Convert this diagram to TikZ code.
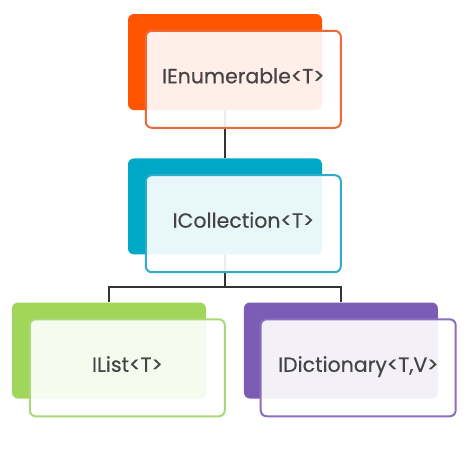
\documentclass[tikz,border=0pt]{standalone}
\usepackage{fontspec}
\setmainfont{Poppins}[FakeBold=0.5]
\usepackage{tikz}
\usetikzlibrary{
        positioning,
        shapes
    }
\definecolor{enumback}{HTML}{FF5500}
\definecolor{enumline}{HTML}{F0693A}
\definecolor{collback}{HTML}{00A8C8}
\definecolor{collline}{HTML}{2EADC9}
\definecolor{listback}{HTML}{A0D65A}
\definecolor{listline}{HTML}{AAD876}
\definecolor{dictback}{HTML}{7B5DB5}
\definecolor{dictline}{HTML}{8A6EBF}
\definecolor{textgray}{HTML}{444444}
\tikzset{
    back/.style={rectangle,rounded corners=6pt,fill=#1,minimum width=194pt,minimum height=96pt,inner sep=0pt},
    front/.style={rectangle,rounded corners=6pt,draw=#1,line width=2pt,fill=white,fill opacity=0.91,text opacity=1,
        minimum width=195pt,minimum height=97pt,inner sep=0pt,anchor=north west,
        text height=14pt,text depth=6pt,
        font=\fontsize{20.5}{24}\selectfont,text=textgray},
    link/.style={draw=black!80,line width=2pt}
}

\begin{document}
\begin{tikzpicture}
    \useasboundingbox (0pt,0pt) rectangle (471pt,-453pt);
    \node[back=enumback] (enumB) at (225pt,-62pt) {};
    \node[back=collback] (collB) [below=48pt of enumB] {};
    \node[back=listback] (listB) at (109pt,-350.5pt) {};
    \node[back=dictback] (dictB) [right=37.5pt of listB] {};
    \path (collB.south) ++(0pt,-32pt) coordinate (fork);
    \path[link]
        (enumB) -- (collB)
        (collB.south) -- (fork)
        (fork) -| (listB.north)
        (fork) -| (dictB.north)
    ;
    \node[front=enumline] (enum) at ([shift={(17pt,-16pt)}]enumB.north west) {IEnumerable<T>};
    \node[front=collline] (coll) at ([shift={(17pt,-16pt)}]collB.north west) {ICollection<T>};
    \node[front=listline] (list) at ([shift={(17pt,-16pt)}]listB.north west) {IList<T>};
    \node[front=dictline] (dict) at ([shift={(16pt,-16pt)}]dictB.north west) {IDictionary<T,V>};
\end{tikzpicture}
\end{document}
